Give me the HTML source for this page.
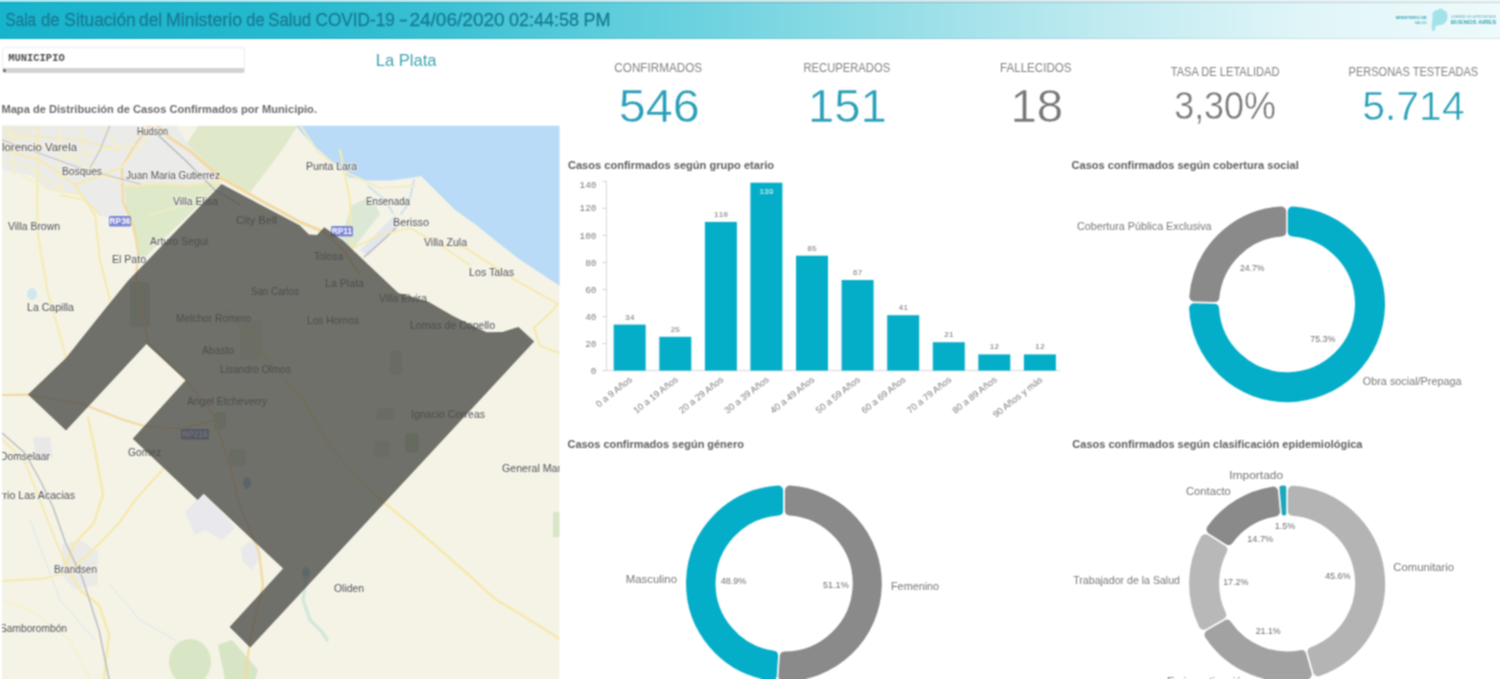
<!DOCTYPE html>
<html lang="es">
<head>
<meta charset="utf-8">
<title>Sala de Situación del Ministerio de Salud COVID-19</title>
<style>
html,body{margin:0;padding:0;}
body{width:1500px;height:679px;overflow:hidden;background:#fff;position:relative;font-family:"Liberation Sans",sans-serif;color:#595959;}
#hdr{position:absolute;left:0;top:2px;width:1500px;height:36.5px;box-shadow:inset 0 1px 0 rgba(0,70,90,.18),inset 0 -1px 0 rgba(0,70,90,.10);background:linear-gradient(90deg,rgb(23,179,204) 0%,rgb(39,185,207) 20%,rgb(60,193,212) 30%,rgb(92,204,219) 40%,rgb(110,210,223) 47%,rgb(150,222,231) 60%,rgb(190,234,240) 73%,rgb(224,245,248) 87%,rgb(238,250,251) 100%);}
#topline{position:absolute;left:0;top:0;width:1500px;height:2px;background:linear-gradient(90deg,#a8eef4 0%,#c4eaef 40%,#d8e8ec 65%,#eef5f6 100%);}
#filter{position:absolute;left:2px;top:46.5px;width:243px;height:26px;background:#fff;border:1px solid #ececec;border-bottom:5px solid #d3d3d3;box-sizing:border-box;border-radius:3px;}
#fdot{position:absolute;left:2.5px;top:68.5px;width:3px;height:3px;border-radius:2px;background:#4a6d73;}
#wrap{position:absolute;left:0;top:0;width:1500px;height:679px;overflow:hidden;filter:url(#bl);background:#fff;}
svg{position:absolute;left:0;top:0;}
</style>
</head>
<body>
<svg width="0" height="0" style="position:absolute"><filter id="bl" x="0" y="0" width="100%" height="100%" color-interpolation-filters="sRGB"><feConvolveMatrix order="3" kernelMatrix="1 2 1 2 4 2 1 2 1" divisor="16" edgeMode="duplicate"/></filter></svg>
<div id="wrap">
<div id="topline"></div>
<div id="hdr"></div>
<div id="filter"></div>
<div id="fdot"></div>
<svg width="1500" height="679" viewBox="0 0 1500 679">
<clipPath id="mc"><rect x="2" y="125.7" width="557.5" height="553.3"/></clipPath>
<g clip-path="url(#mc)">
<rect x="2" y="125.7" width="557.5" height="553.3" fill="#f4f3e6"/>
<polygon points="2.0,125.0 176.0,125.0 186.0,141.0 205.0,163.0 221.0,181.0 190.0,186.0 160.0,184.0 125.0,187.0 126.0,225.0 100.0,215.0 80.0,195.0 50.0,190.0 30.0,175.0 2.0,170.0" fill="#ebebea"/>
<polygon points="199.0,125.0 298.0,125.0 285.0,146.0 250.5,192.0 221.6,180.0 203.0,160.0 186.6,143.5" fill="#dfe9ca"/>
<polygon points="125.0,187.0 160.0,184.0 190.0,186.0 221.0,183.0 140.0,262.0 134.0,235.0 126.0,208.0" fill="#dde9c8"/>
<polygon points="2.0,125.0 40.0,125.0 20.0,140.0 2.0,146.0" fill="#eceadf"/>
<polygon points="352.0,205.0 372.0,196.0 380.0,214.0 352.0,250.0 340.0,240.0" fill="#dce8d6"/>
<polygon points="360.0,250.0 395.0,215.0 402.0,222.0 368.0,256.0" fill="#e4e6ee"/>
<polygon points="296.0,125.0 300.0,131.0 312.0,144.0 326.0,156.0 338.0,168.0 349.0,177.0 365.0,180.5 390.0,180.5 413.0,177.5 421.0,176.0 429.0,184.0 437.0,192.0 455.0,210.0 475.0,224.0 496.0,241.0 519.0,259.0 560.0,286.0 560.0,125.0" fill="#b9dbf7"/>
<ellipse cx="190" cy="662" rx="21" ry="23" fill="#d9e6c5"/>
<polygon points="218.0,645.0 232.0,640.0 245.0,655.0 258.0,670.0 255.0,679.0 225.0,679.0" fill="#d6e5c3"/>
<rect x="553" y="512" width="7" height="25" fill="#d9e6c5"/>
<polygon points="185.0,512.0 203.0,494.0 222.0,512.0 235.0,528.0 222.0,540.0 205.0,530.0 195.0,535.0" fill="#e9e8ec"/>
<polygon points="241.0,548.0 252.0,540.0 262.0,555.0 252.0,570.0 243.0,562.0" fill="#e9e8ec"/>
<polygon points="62.0,545.0 80.0,540.0 98.0,552.0 98.0,585.0 75.0,590.0 62.0,575.0" fill="#ebeae6"/>
<polygon points="33.0,437.0 50.0,437.0 53.0,457.0 36.0,458.0" fill="#e9e8e8"/>
<rect x="214" y="412" width="12" height="17" rx="4" fill="#b9d7ad" fill-opacity="0.7"/>
<rect x="229" y="449" width="17" height="17" rx="4" fill="#c3dcb4" fill-opacity="0.7"/>
<rect x="405" y="433" width="14" height="20" rx="4" fill="#b5d5a8" fill-opacity="0.7"/>
<rect x="376" y="408" width="18" height="12" rx="4" fill="#cfdcc0" fill-opacity="0.7"/>
<rect x="374" y="441" width="16" height="16" rx="4" fill="#d0d8c8" fill-opacity="0.7"/>
<rect x="130" y="282" width="20" height="45" rx="4" fill="#bcd6b0" fill-opacity="0.7"/>
<rect x="240" y="320" width="22" height="40" rx="4" fill="#dde5cc" fill-opacity="0.7"/>
<rect x="390" y="350" width="12" height="25" rx="4" fill="#c8dcb8" fill-opacity="0.7"/>
<ellipse cx="247" cy="483" rx="4" ry="6" fill="#9cc0e8"/>
<ellipse cx="306" cy="573" rx="4" ry="6" fill="#a8c8e8"/>
<polyline points="368.0,186.0 384.0,199.0 393.0,213.0" fill="none" stroke="#c5ddf0" stroke-width="1.6" stroke-linecap="round" stroke-linejoin="round" />
<polyline points="414.0,180.0 409.0,203.0 401.0,214.0" fill="none" stroke="#c5ddf0" stroke-width="1.6" stroke-linecap="round" stroke-linejoin="round" />
<polyline points="364.0,257.0 380.0,243.0 396.0,228.0" fill="none" stroke="#b8b8c0" stroke-width="1.3" stroke-linecap="round" stroke-linejoin="round" />
<ellipse cx="32" cy="294" rx="5" ry="6" fill="#d0e8ec"/>
<polyline points="306.0,578.0 303.0,600.0 310.0,620.0 322.0,632.0 327.0,640.0" fill="none" stroke="#d3e8dc" stroke-width="3.5" stroke-linecap="round" stroke-linejoin="round" />
<polyline points="30.0,520.0 45.0,560.0 60.0,600.0 95.0,640.0" fill="none" stroke="#dbe8f0" stroke-width="1" stroke-linecap="round" stroke-linejoin="round" />
<polyline points="110.0,585.0 140.0,620.0 175.0,640.0" fill="none" stroke="#dbe8f0" stroke-width="1" stroke-linecap="round" stroke-linejoin="round" />
<polyline points="157.0,125.0 170.0,138.0 190.0,151.0 221.0,178.0 260.0,200.0 300.0,222.0 324.0,232.0 345.0,252.0 360.0,275.0" fill="none" stroke="#f3d9a3" stroke-width="3" stroke-linecap="round" stroke-linejoin="round" />
<polyline points="150.0,125.0 135.0,145.0 122.0,167.0 123.0,202.0 134.0,227.0 138.0,252.0 136.0,280.0 142.0,313.0 148.0,342.0 186.0,380.0 214.0,416.0 231.0,470.0 239.0,503.0 259.0,552.0 263.0,585.0 250.0,640.0 245.0,679.0" fill="none" stroke="#f3d9a3" stroke-width="2.2" stroke-linecap="round" stroke-linejoin="round" />
<polyline points="2.0,395.0 28.0,394.6 82.0,404.0 124.0,420.0 144.0,426.0 181.0,429.0 214.0,420.0" fill="none" stroke="#f3d9a3" stroke-width="2.2" stroke-linecap="round" stroke-linejoin="round" />
<polyline points="88.0,418.0 95.0,450.0 103.0,494.0 94.0,523.0 74.0,544.0 66.0,565.0 80.0,590.0 99.0,605.0 109.0,634.0 104.0,679.0" fill="none" stroke="#f6e9ad" stroke-width="2.4" stroke-linecap="round" stroke-linejoin="round" />
<polyline points="164.0,468.0 136.0,499.0 119.0,523.0 99.0,544.0 82.0,560.0 70.0,568.0" fill="none" stroke="#f6e9ad" stroke-width="2.2" stroke-linecap="round" stroke-linejoin="round" />
<polyline points="2.0,439.0 25.0,462.0 41.0,503.0 57.0,544.0 66.0,565.0" fill="none" stroke="#f6e9ad" stroke-width="1.8" stroke-linecap="round" stroke-linejoin="round" />
<polyline points="2.0,581.0 41.0,579.0 70.0,572.0" fill="none" stroke="#f6e9ad" stroke-width="1.8" stroke-linecap="round" stroke-linejoin="round" />
<polyline points="2.0,600.0 30.0,610.0 70.0,640.0 90.0,679.0" fill="none" stroke="#f8f0c8" stroke-width="1.4" stroke-linecap="round" stroke-linejoin="round" />
<polyline points="225.0,310.0 280.0,374.0 304.0,400.0 329.0,445.0 361.0,482.0 386.0,504.0 415.0,528.0 445.0,554.0 470.0,576.0 495.0,599.0 525.0,617.0 560.0,639.0" fill="none" stroke="#f6e9ad" stroke-width="2.4" stroke-linecap="round" stroke-linejoin="round" />
<polyline points="2.0,150.0 40.0,160.0 75.0,185.0 95.0,215.0 100.0,260.0 110.0,300.0" fill="none" stroke="#f6e9ad" stroke-width="2" stroke-linecap="round" stroke-linejoin="round" />
<polyline points="75.0,185.0 122.0,167.0" fill="none" stroke="#f6e9ad" stroke-width="2" stroke-linecap="round" stroke-linejoin="round" />
<polyline points="38.0,125.0 37.0,200.0 38.0,235.0 47.6,292.0 60.0,335.0 66.0,358.0" fill="none" stroke="#f5ecb6" stroke-width="2.3" stroke-linecap="round" stroke-linejoin="round" />
<polyline points="20.0,135.0 80.0,140.0 120.0,150.0" fill="none" stroke="#f6e9ad" stroke-width="1.6" stroke-linecap="round" stroke-linejoin="round" />
<polyline points="100.0,215.0 85.0,200.0 60.0,195.0" fill="none" stroke="#f6e9ad" stroke-width="1.6" stroke-linecap="round" stroke-linejoin="round" />
<polyline points="221.0,181.0 190.0,186.0 160.0,184.0 123.0,187.0" fill="none" stroke="#f6e9ad" stroke-width="1.8" stroke-linecap="round" stroke-linejoin="round" />
<polyline points="221.0,181.0 185.0,205.0 150.0,215.0" fill="none" stroke="#f3ecc4" stroke-width="1.4" stroke-linecap="round" stroke-linejoin="round" />
<polyline points="440.0,245.0 464.0,247.0 517.0,281.0 558.0,304.0 552.0,311.0 534.0,328.0 540.0,346.0 560.0,353.0" fill="none" stroke="#f6e9ad" stroke-width="2" stroke-linecap="round" stroke-linejoin="round" />
<polyline points="340.0,150.0 350.0,200.0 352.0,250.0" fill="none" stroke="#f6e9ad" stroke-width="2" stroke-linecap="round" stroke-linejoin="round" />
<polyline points="345.0,252.0 380.0,235.0 410.0,228.0 440.0,245.0 470.0,265.0" fill="none" stroke="#f6e9ad" stroke-width="1.6" stroke-linecap="round" stroke-linejoin="round" />
<polyline points="300.0,125.0 318.0,152.0 345.0,172.0 380.0,188.0 415.0,186.0" fill="none" stroke="#f3ecc9" stroke-width="2" stroke-linecap="round" stroke-linejoin="round" />
<polyline points="2.0,160.0 30.0,168.0 62.0,190.0" fill="none" stroke="#f7efc0" stroke-width="1.6" stroke-linecap="round" stroke-linejoin="round" />
<polyline points="10.0,125.0 14.0,175.0" fill="none" stroke="#f7efc0" stroke-width="1.6" stroke-linecap="round" stroke-linejoin="round" />
<polyline points="60.0,125.0 58.0,160.0 62.0,190.0" fill="none" stroke="#f7efc0" stroke-width="1.6" stroke-linecap="round" stroke-linejoin="round" />
<polyline points="80.0,125.0 84.0,150.0 100.0,176.0" fill="none" stroke="#f7efc0" stroke-width="1.6" stroke-linecap="round" stroke-linejoin="round" />
<polyline points="100.0,125.0 120.0,150.0" fill="none" stroke="#f7efc0" stroke-width="1.6" stroke-linecap="round" stroke-linejoin="round" />
<polyline points="2.0,132.0 60.0,150.0 100.0,176.0" fill="none" stroke="#f7efc0" stroke-width="1.6" stroke-linecap="round" stroke-linejoin="round" />
<polyline points="20.0,175.0 50.0,190.0 80.0,195.0" fill="none" stroke="#f7efc0" stroke-width="1.6" stroke-linecap="round" stroke-linejoin="round" />
<polyline points="122.0,167.0 145.0,141.0 153.0,132.0" fill="none" stroke="#f7efc0" stroke-width="1.6" stroke-linecap="round" stroke-linejoin="round" />
<polyline points="103.0,176.0 122.0,182.0" fill="none" stroke="#f7efc0" stroke-width="1.6" stroke-linecap="round" stroke-linejoin="round" />
<polyline points="60.0,160.0 100.0,150.0 135.0,145.0" fill="none" stroke="#f7efc0" stroke-width="1.6" stroke-linecap="round" stroke-linejoin="round" />
<polyline points="2.0,433.0 25.0,453.0 41.0,482.0 53.0,507.0 66.0,544.0 82.0,577.0 99.0,630.0 109.0,679.0" fill="none" stroke="#bdbdc2" stroke-width="1.5" stroke-linecap="round" stroke-linejoin="round" />
<polyline points="2.0,140.0 30.0,150.0 80.0,168.0 110.0,176.0 140.0,184.0" fill="none" stroke="#c2c2c8" stroke-width="1.2" stroke-linecap="round" stroke-linejoin="round" />
<polyline points="158.0,135.0 185.0,160.0 215.0,190.0 240.0,205.0" fill="none" stroke="#b5b5bb" stroke-width="1.2" stroke-linecap="round" stroke-linejoin="round" />
<polyline points="110.0,125.0 100.0,150.0 90.0,168.0" fill="none" stroke="#c2c2c8" stroke-width="1.2" stroke-linecap="round" stroke-linejoin="round" />
<text x="137" y="135" font-size="10.5" fill="#505050" stroke="#f7f6f0" stroke-opacity="0.75" stroke-width="1.8" paint-order="stroke" stroke-linejoin="round" textLength="31" lengthAdjust="spacingAndGlyphs">Hudson</text>
<text x="2" y="151.3" font-size="10.5" fill="#505050" stroke="#f7f6f0" stroke-opacity="0.75" stroke-width="1.8" paint-order="stroke" stroke-linejoin="round" textLength="75" lengthAdjust="spacingAndGlyphs">lorencio Varela</text>
<text x="62" y="175" font-size="10.5" fill="#505050" stroke="#f7f6f0" stroke-opacity="0.75" stroke-width="1.8" paint-order="stroke" stroke-linejoin="round" textLength="40" lengthAdjust="spacingAndGlyphs">Bosques</text>
<text x="126" y="179" font-size="10.5" fill="#505050" stroke="#f7f6f0" stroke-opacity="0.75" stroke-width="1.8" paint-order="stroke" stroke-linejoin="round" textLength="94" lengthAdjust="spacingAndGlyphs">Juan Maria Gutierrez</text>
<text x="173" y="205" font-size="10.5" fill="#505050" stroke="#f7f6f0" stroke-opacity="0.75" stroke-width="1.8" paint-order="stroke" stroke-linejoin="round" textLength="45" lengthAdjust="spacingAndGlyphs">Villa Elisa</text>
<text x="8" y="230" font-size="10.5" fill="#505050" stroke="#f7f6f0" stroke-opacity="0.75" stroke-width="1.8" paint-order="stroke" stroke-linejoin="round" textLength="52" lengthAdjust="spacingAndGlyphs">Villa Brown</text>
<text x="150" y="245" font-size="10.5" fill="#505050" stroke="#f7f6f0" stroke-opacity="0.75" stroke-width="1.8" paint-order="stroke" stroke-linejoin="round" textLength="58" lengthAdjust="spacingAndGlyphs">Arturo Segui</text>
<text x="112" y="263" font-size="10.5" fill="#505050" stroke="#f7f6f0" stroke-opacity="0.75" stroke-width="1.8" paint-order="stroke" stroke-linejoin="round" textLength="34" lengthAdjust="spacingAndGlyphs">El Pato</text>
<text x="236" y="224" font-size="10.5" fill="#505050" stroke="#f7f6f0" stroke-opacity="0.75" stroke-width="1.8" paint-order="stroke" stroke-linejoin="round" textLength="41" lengthAdjust="spacingAndGlyphs">City Bell</text>
<text x="306" y="170" font-size="10.5" fill="#505050" stroke="#f7f6f0" stroke-opacity="0.75" stroke-width="1.8" paint-order="stroke" stroke-linejoin="round" textLength="51" lengthAdjust="spacingAndGlyphs">Punta Lara</text>
<text x="366" y="205" font-size="10.5" fill="#505050" stroke="#f7f6f0" stroke-opacity="0.75" stroke-width="1.8" paint-order="stroke" stroke-linejoin="round" textLength="44" lengthAdjust="spacingAndGlyphs">Ensenada</text>
<text x="393" y="226" font-size="10.5" fill="#505050" stroke="#f7f6f0" stroke-opacity="0.75" stroke-width="1.8" paint-order="stroke" stroke-linejoin="round" textLength="36" lengthAdjust="spacingAndGlyphs">Berisso</text>
<text x="424" y="246" font-size="10.5" fill="#505050" stroke="#f7f6f0" stroke-opacity="0.75" stroke-width="1.8" paint-order="stroke" stroke-linejoin="round" textLength="43" lengthAdjust="spacingAndGlyphs">Villa Zula</text>
<text x="314" y="260" font-size="10.5" fill="#505050" stroke="#f7f6f0" stroke-opacity="0.75" stroke-width="1.8" paint-order="stroke" stroke-linejoin="round" textLength="29" lengthAdjust="spacingAndGlyphs">Tolosa</text>
<text x="469" y="276" font-size="10.5" fill="#505050" stroke="#f7f6f0" stroke-opacity="0.75" stroke-width="1.8" paint-order="stroke" stroke-linejoin="round" textLength="45" lengthAdjust="spacingAndGlyphs">Los Talas</text>
<text x="325" y="287" font-size="10.5" fill="#505050" stroke="#f7f6f0" stroke-opacity="0.75" stroke-width="1.8" paint-order="stroke" stroke-linejoin="round" textLength="39" lengthAdjust="spacingAndGlyphs">La Plata</text>
<text x="251" y="295" font-size="10.5" fill="#505050" stroke="#f7f6f0" stroke-opacity="0.75" stroke-width="1.8" paint-order="stroke" stroke-linejoin="round" textLength="48" lengthAdjust="spacingAndGlyphs">San Carlos</text>
<text x="379" y="302" font-size="10.5" fill="#505050" stroke="#f7f6f0" stroke-opacity="0.75" stroke-width="1.8" paint-order="stroke" stroke-linejoin="round" textLength="48" lengthAdjust="spacingAndGlyphs">Villa Elvira</text>
<text x="27" y="311" font-size="10.5" fill="#505050" stroke="#f7f6f0" stroke-opacity="0.75" stroke-width="1.8" paint-order="stroke" stroke-linejoin="round" textLength="47" lengthAdjust="spacingAndGlyphs">La Capilla</text>
<text x="176" y="322" font-size="10.5" fill="#505050" stroke="#f7f6f0" stroke-opacity="0.75" stroke-width="1.8" paint-order="stroke" stroke-linejoin="round" textLength="75" lengthAdjust="spacingAndGlyphs">Melchor Romero</text>
<text x="307" y="324" font-size="10.5" fill="#505050" stroke="#f7f6f0" stroke-opacity="0.75" stroke-width="1.8" paint-order="stroke" stroke-linejoin="round" textLength="52" lengthAdjust="spacingAndGlyphs">Los Hornos</text>
<text x="410" y="329" font-size="10.5" fill="#505050" stroke="#f7f6f0" stroke-opacity="0.75" stroke-width="1.8" paint-order="stroke" stroke-linejoin="round" textLength="85" lengthAdjust="spacingAndGlyphs">Lomas de Copello</text>
<text x="202" y="354" font-size="10.5" fill="#505050" stroke="#f7f6f0" stroke-opacity="0.75" stroke-width="1.8" paint-order="stroke" stroke-linejoin="round" textLength="32" lengthAdjust="spacingAndGlyphs">Abasto</text>
<text x="220" y="373" font-size="10.5" fill="#505050" stroke="#f7f6f0" stroke-opacity="0.75" stroke-width="1.8" paint-order="stroke" stroke-linejoin="round" textLength="71" lengthAdjust="spacingAndGlyphs">Lisandro Olmos</text>
<text x="187" y="405" font-size="10.5" fill="#505050" stroke="#f7f6f0" stroke-opacity="0.75" stroke-width="1.8" paint-order="stroke" stroke-linejoin="round" textLength="80" lengthAdjust="spacingAndGlyphs">Angel Etcheverry</text>
<text x="411" y="418" font-size="10.5" fill="#505050" stroke="#f7f6f0" stroke-opacity="0.75" stroke-width="1.8" paint-order="stroke" stroke-linejoin="round" textLength="74" lengthAdjust="spacingAndGlyphs">Ignacio Correas</text>
<text x="128" y="456" font-size="10.5" fill="#505050" stroke="#f7f6f0" stroke-opacity="0.75" stroke-width="1.8" paint-order="stroke" stroke-linejoin="round" textLength="33" lengthAdjust="spacingAndGlyphs">Gomez</text>
<text x="0" y="460" font-size="10.5" fill="#505050" stroke="#f7f6f0" stroke-opacity="0.75" stroke-width="1.8" paint-order="stroke" stroke-linejoin="round" textLength="50" lengthAdjust="spacingAndGlyphs">Domselaar</text>
<text x="502" y="472" font-size="10.5" fill="#505050" stroke="#f7f6f0" stroke-opacity="0.75" stroke-width="1.8" paint-order="stroke" stroke-linejoin="round" textLength="59" lengthAdjust="spacingAndGlyphs">General Mar</text>
<text x="0" y="499" font-size="10.5" fill="#505050" stroke="#f7f6f0" stroke-opacity="0.75" stroke-width="1.8" paint-order="stroke" stroke-linejoin="round" textLength="75" lengthAdjust="spacingAndGlyphs">rrio Las Acacias</text>
<text x="54" y="573" font-size="10.5" fill="#505050" stroke="#f7f6f0" stroke-opacity="0.75" stroke-width="1.8" paint-order="stroke" stroke-linejoin="round" textLength="43" lengthAdjust="spacingAndGlyphs">Brandsen</text>
<text x="334" y="592" font-size="10.5" fill="#505050" stroke="#f7f6f0" stroke-opacity="0.75" stroke-width="1.8" paint-order="stroke" stroke-linejoin="round" textLength="30" lengthAdjust="spacingAndGlyphs">Oliden</text>
<text x="0" y="632" font-size="10.5" fill="#505050" stroke="#f7f6f0" stroke-opacity="0.75" stroke-width="1.8" paint-order="stroke" stroke-linejoin="round" textLength="67" lengthAdjust="spacingAndGlyphs">Samborombón</text>
<rect x="109" y="216" width="22" height="10.5" rx="1.5" fill="#7b86d4"/><text x="120.0" y="224.3" font-size="8.3" font-weight="bold" fill="#fff" text-anchor="middle">RP36</text>
<rect x="331" y="226" width="22" height="10.5" rx="1.5" fill="#7b86d4"/><text x="342.0" y="234.3" font-size="8.3" font-weight="bold" fill="#fff" text-anchor="middle">RP11</text>
<rect x="181" y="429" width="28" height="10.5" rx="1.5" fill="#7b86d4"/><text x="195.0" y="437.3" font-size="8.3" font-weight="bold" fill="#fff" text-anchor="middle">RP215</text>
<polygon points="221.5,184.0 299.6,225.3 309.0,234.5 317.0,235.0 324.3,227.3 343.5,241.0 366.5,263.0 398.3,293.0 428.4,301.8 453.0,316.0 474.3,326.6 486.7,332.2 502.6,331.9 518.5,327.0 534.2,341.5 250.2,647.5 229.6,627.0 283.1,568.6 203.7,493.7 197.6,500.0 132.8,438.8 185.6,380.2 146.4,344.0 66.0,430.5 28.0,394.6 66.0,358.0 105.0,309.0 127.8,281.0" fill="#4a4a46" fill-opacity="0.78"/>
</g>
</svg>
<svg width="1500" height="679" viewBox="0 0 1500 679">
<line x1="606.5" y1="181" x2="606.5" y2="370.6" stroke="#d9d9d9" stroke-width="1"/>
<line x1="606.5" y1="370.6" x2="1060" y2="370.6" stroke="#d9d9d9" stroke-width="1"/>
<line x1="602.5" y1="370.6" x2="606.5" y2="370.6" stroke="#d0d0d0" stroke-width="1"/>
<text x="596.5" y="373.6" font-size="9.4" fill="#7d7d7d" text-anchor="end" font-family="Liberation Mono,monospace">0</text>
<line x1="602.5" y1="343.6" x2="606.5" y2="343.6" stroke="#d0d0d0" stroke-width="1"/>
<text x="596.5" y="346.6" font-size="9.4" fill="#7d7d7d" text-anchor="end" font-family="Liberation Mono,monospace">20</text>
<line x1="602.5" y1="316.5" x2="606.5" y2="316.5" stroke="#d0d0d0" stroke-width="1"/>
<text x="596.5" y="319.5" font-size="9.4" fill="#7d7d7d" text-anchor="end" font-family="Liberation Mono,monospace">40</text>
<line x1="602.5" y1="289.5" x2="606.5" y2="289.5" stroke="#d0d0d0" stroke-width="1"/>
<text x="596.5" y="292.5" font-size="9.4" fill="#7d7d7d" text-anchor="end" font-family="Liberation Mono,monospace">60</text>
<line x1="602.5" y1="262.5" x2="606.5" y2="262.5" stroke="#d0d0d0" stroke-width="1"/>
<text x="596.5" y="265.5" font-size="9.4" fill="#7d7d7d" text-anchor="end" font-family="Liberation Mono,monospace">80</text>
<line x1="602.5" y1="235.5" x2="606.5" y2="235.5" stroke="#d0d0d0" stroke-width="1"/>
<text x="596.5" y="238.5" font-size="9.4" fill="#7d7d7d" text-anchor="end" font-family="Liberation Mono,monospace">100</text>
<line x1="602.5" y1="208.4" x2="606.5" y2="208.4" stroke="#d0d0d0" stroke-width="1"/>
<text x="596.5" y="211.4" font-size="9.4" fill="#7d7d7d" text-anchor="end" font-family="Liberation Mono,monospace">120</text>
<line x1="602.5" y1="181.4" x2="606.5" y2="181.4" stroke="#d0d0d0" stroke-width="1"/>
<text x="596.5" y="187.9" font-size="9.4" fill="#7d7d7d" text-anchor="end" font-family="Liberation Mono,monospace">140</text>
<rect x="613.7" y="324.6" width="32" height="46.0" fill="#05aec8"/>
<text x="629.7" y="319.6" font-size="8" fill="#777" text-anchor="middle" font-family="Liberation Mono,monospace">34</text>
<text x="632.9" y="380.6" font-size="9.2" fill="#7d7d7d" text-anchor="end" transform="rotate(-38.5 632.9 380.6)">0 a 9 Años</text>
<rect x="659.3" y="336.8" width="32" height="33.8" fill="#05aec8"/>
<text x="675.3" y="331.8" font-size="8" fill="#777" text-anchor="middle" font-family="Liberation Mono,monospace">25</text>
<text x="678.5" y="380.6" font-size="9.2" fill="#7d7d7d" text-anchor="end" transform="rotate(-38.5 678.5 380.6)">10 a 19 Años</text>
<rect x="704.9" y="221.9" width="32" height="148.7" fill="#05aec8"/>
<text x="720.9" y="216.9" font-size="8" fill="#777" text-anchor="middle" font-family="Liberation Mono,monospace">110</text>
<text x="724.1" y="380.6" font-size="9.2" fill="#7d7d7d" text-anchor="end" transform="rotate(-38.5 724.1 380.6)">20 a 29 Años</text>
<rect x="750.4" y="182.7" width="32" height="187.9" fill="#05aec8"/>
<text x="766.4" y="193.7" font-size="8" fill="#e8f8fb" text-anchor="middle" font-family="Liberation Mono,monospace">139</text>
<text x="769.6" y="380.6" font-size="9.2" fill="#7d7d7d" text-anchor="end" transform="rotate(-38.5 769.6 380.6)">30 a 39 Años</text>
<rect x="796.0" y="255.7" width="32" height="114.9" fill="#05aec8"/>
<text x="812.0" y="250.7" font-size="8" fill="#777" text-anchor="middle" font-family="Liberation Mono,monospace">85</text>
<text x="815.2" y="380.6" font-size="9.2" fill="#7d7d7d" text-anchor="end" transform="rotate(-38.5 815.2 380.6)">40 a 49 Años</text>
<rect x="841.6" y="280.0" width="32" height="90.6" fill="#05aec8"/>
<text x="857.6" y="275.0" font-size="8" fill="#777" text-anchor="middle" font-family="Liberation Mono,monospace">67</text>
<text x="860.8" y="380.6" font-size="9.2" fill="#7d7d7d" text-anchor="end" transform="rotate(-38.5 860.8 380.6)">50 a 59 Años</text>
<rect x="887.2" y="315.2" width="32" height="55.4" fill="#05aec8"/>
<text x="903.2" y="310.2" font-size="8" fill="#777" text-anchor="middle" font-family="Liberation Mono,monospace">41</text>
<text x="906.4" y="380.6" font-size="9.2" fill="#7d7d7d" text-anchor="end" transform="rotate(-38.5 906.4 380.6)">60 a 69 Años</text>
<rect x="932.8" y="342.2" width="32" height="28.4" fill="#05aec8"/>
<text x="948.8" y="337.2" font-size="8" fill="#777" text-anchor="middle" font-family="Liberation Mono,monospace">21</text>
<text x="952.0" y="380.6" font-size="9.2" fill="#7d7d7d" text-anchor="end" transform="rotate(-38.5 952.0 380.6)">70 a 79 Años</text>
<rect x="978.3" y="354.4" width="32" height="16.2" fill="#05aec8"/>
<text x="994.3" y="349.4" font-size="8" fill="#777" text-anchor="middle" font-family="Liberation Mono,monospace">12</text>
<text x="997.5" y="380.6" font-size="9.2" fill="#7d7d7d" text-anchor="end" transform="rotate(-38.5 997.5 380.6)">80 a 89 Años</text>
<rect x="1023.9" y="354.4" width="32" height="16.2" fill="#05aec8"/>
<text x="1039.9" y="349.4" font-size="8" fill="#777" text-anchor="middle" font-family="Liberation Mono,monospace">12</text>
<text x="1043.1" y="380.6" font-size="9.2" fill="#7d7d7d" text-anchor="end" transform="rotate(-38.5 1043.1 380.6)">90 Años y más</text>
<path d="M1292.8,211.4 A93.0,93.0 0 1 1 1194.1,308.3 L1214.1,308.7 A73.0,73.0 0 1 0 1292.8,231.4 Z" fill="#05aec8" stroke="#05aec8" stroke-width="10.0" stroke-linejoin="round"/>
<path d="M1194.3,296.6 A93.0,93.0 0 0 1 1281.2,211.4 L1281.2,231.4 A73.0,73.0 0 0 0 1214.4,297.0 Z" fill="#8a8a8a" stroke="#8a8a8a" stroke-width="10.0" stroke-linejoin="round"/>
<path d="M789.9,490.6 A93.0,93.0 0 0 1 783.4,676.4 L784.8,656.6 A73.2,73.2 0 0 0 789.9,510.4 Z" fill="#8a8a8a" stroke="#8a8a8a" stroke-width="10.0" stroke-linejoin="round"/>
<path d="M771.8,675.6 A93.0,93.0 0 0 1 778.1,490.6 L778.1,510.4 A73.2,73.2 0 0 0 773.1,655.8 Z" fill="#05aec8" stroke="#05aec8" stroke-width="10.0" stroke-linejoin="round"/>
<path d="M1292.9,490.7 A93.0,93.0 0 0 1 1318.1,671.2 L1312.6,651.9 A73.0,73.0 0 0 0 1292.9,510.7 Z" fill="#b4b4b4" stroke="#b4b4b4" stroke-width="10.0" stroke-linejoin="round"/>
<path d="M1306.8,674.4 A93.0,93.0 0 0 1 1209.5,634.8 L1226.9,624.8 A73.0,73.0 0 0 0 1301.3,655.1 Z" fill="#a2a2a2" stroke="#a2a2a2" stroke-width="10.0" stroke-linejoin="round"/>
<path d="M1203.7,624.7 A93.0,93.0 0 0 1 1205.3,539.2 L1222.3,549.9 A73.0,73.0 0 0 0 1221.1,614.7 Z" fill="#b8b8b8" stroke="#b8b8b8" stroke-width="10.0" stroke-linejoin="round"/>
<path d="M1211.5,529.3 A93.0,93.0 0 0 1 1273.1,491.6 L1274.9,511.5 A73.0,73.0 0 0 0 1228.5,539.9 Z" fill="#8a8a8a" stroke="#8a8a8a" stroke-width="10.0" stroke-linejoin="round"/>
<path d="M1281.4,487.6 A96.1,96.1 0 0 1 1284.3,487.5 L1284.3,513.6 A69.9,69.9 0 0 0 1283.7,513.6 Z" fill="#1fa6bc" stroke="#1fa6bc" stroke-width="3.88159241243499" stroke-linejoin="round"/>
</svg>
<svg width="1500" height="679" viewBox="0 0 1500 679">
<path d="M1432.5,13 L1435,10.5 L1438,10 L1440,8.5 L1443,9.5 L1446.5,12 L1447.8,16 L1447,20 L1444.5,23.5 L1441,25 L1437.5,25.2 L1435.5,26.5 L1434.8,30.8 L1432.2,31 L1431.6,26 L1432.4,20 Z" fill="#86d8e3" fill-opacity="0.7"/>
<text y="26" font-size="18" font-weight="normal" font-family="Liberation Sans,sans-serif" fill="#177d94" stroke="#177d94" stroke-width="0.3"><tspan x="5.45" textLength="30.58" lengthAdjust="spacingAndGlyphs">Sala</tspan> <tspan x="41.07" textLength="18.58" lengthAdjust="spacingAndGlyphs">de</tspan> <tspan x="64.34" textLength="71.38" lengthAdjust="spacingAndGlyphs">Situación</tspan> <tspan x="139.04" textLength="23.15" lengthAdjust="spacingAndGlyphs">del</tspan> <tspan x="166.02" textLength="76.00" lengthAdjust="spacingAndGlyphs">Ministerio</tspan> <tspan x="246.28" textLength="18.35" lengthAdjust="spacingAndGlyphs">de</tspan> <tspan x="268.27" textLength="42.90" lengthAdjust="spacingAndGlyphs">Salud</tspan> <tspan x="315.54" textLength="79.33" lengthAdjust="spacingAndGlyphs">COVID-19</tspan> <tspan x="398.67" textLength="9.15" lengthAdjust="spacingAndGlyphs">-</tspan> <tspan x="409.44" textLength="95.18" lengthAdjust="spacingAndGlyphs">24/06/2020</tspan> <tspan x="509.10" textLength="69.97" lengthAdjust="spacingAndGlyphs">02:44:58</tspan> <tspan x="583.50" textLength="27.00" lengthAdjust="spacingAndGlyphs">PM</tspan></text>
<text x="1077.01" y="230.4" font-size="11" font-weight="normal" font-family="Liberation Sans,sans-serif" fill="#777" textLength="134.55" lengthAdjust="spacingAndGlyphs" >Cobertura Pública Exclusiva</text>
<text x="1362.81" y="384.5" font-size="11" font-weight="normal" font-family="Liberation Sans,sans-serif" fill="#777" textLength="98.72" lengthAdjust="spacingAndGlyphs" >Obra social/Prepaga</text>
<text x="1239.94" y="271.2" font-size="9.3" font-weight="normal" font-family="Liberation Sans,sans-serif" fill="#6e6e6e" textLength="24.50" lengthAdjust="spacingAndGlyphs" >24.7%</text>
<text x="1310.22" y="342" font-size="9.3" font-weight="normal" font-family="Liberation Sans,sans-serif" fill="#6e6e6e" textLength="25.12" lengthAdjust="spacingAndGlyphs" >75.3%</text>
<text x="625.76" y="582.6" font-size="11" font-weight="normal" font-family="Liberation Sans,sans-serif" fill="#777" textLength="51.28" lengthAdjust="spacingAndGlyphs" >Masculino</text>
<text x="891.02" y="590" font-size="11" font-weight="normal" font-family="Liberation Sans,sans-serif" fill="#777" textLength="48.09" lengthAdjust="spacingAndGlyphs" >Femenino</text>
<text x="720.76" y="584.2" font-size="9.3" font-weight="normal" font-family="Liberation Sans,sans-serif" fill="#6e6e6e" textLength="25.39" lengthAdjust="spacingAndGlyphs" >48.9%</text>
<text x="823.01" y="588" font-size="9.3" font-weight="normal" font-family="Liberation Sans,sans-serif" fill="#6e6e6e" textLength="25.74" lengthAdjust="spacingAndGlyphs" >51.1%</text>
<text x="1229.21" y="478.7" font-size="11" font-weight="normal" font-family="Liberation Sans,sans-serif" fill="#777" textLength="53.96" lengthAdjust="spacingAndGlyphs" >Importado</text>
<text x="1185.99" y="494.8" font-size="11" font-weight="normal" font-family="Liberation Sans,sans-serif" fill="#777" textLength="44.85" lengthAdjust="spacingAndGlyphs" >Contacto</text>
<text x="1393.39" y="570.6" font-size="11" font-weight="normal" font-family="Liberation Sans,sans-serif" fill="#777" textLength="60.68" lengthAdjust="spacingAndGlyphs" >Comunitario</text>
<text x="1073.26" y="584.2" font-size="11" font-weight="normal" font-family="Liberation Sans,sans-serif" fill="#777" textLength="106.75" lengthAdjust="spacingAndGlyphs" >Trabajador de la Salud</text>
<text x="1166.99" y="684.6" font-size="11" font-weight="normal" font-family="Liberation Sans,sans-serif" fill="#777" textLength="80.62" lengthAdjust="spacingAndGlyphs" >En investigación</text>
<text x="1274.78" y="528.7" font-size="9.3" font-weight="normal" font-family="Liberation Sans,sans-serif" fill="#6e6e6e" textLength="20.45" lengthAdjust="spacingAndGlyphs" >1.5%</text>
<text x="1247.26" y="542.3" font-size="9.3" font-weight="normal" font-family="Liberation Sans,sans-serif" fill="#6e6e6e" textLength="26.00" lengthAdjust="spacingAndGlyphs" >14.7%</text>
<text x="1223.18" y="585.2" font-size="9.3" font-weight="normal" font-family="Liberation Sans,sans-serif" fill="#6e6e6e" textLength="25.16" lengthAdjust="spacingAndGlyphs" >17.2%</text>
<text x="1324.96" y="578.7" font-size="9.3" font-weight="normal" font-family="Liberation Sans,sans-serif" fill="#6e6e6e" textLength="25.70" lengthAdjust="spacingAndGlyphs" >45.6%</text>
<text x="1255.63" y="634.2" font-size="9.3" font-weight="normal" font-family="Liberation Sans,sans-serif" fill="#6e6e6e" textLength="25.02" lengthAdjust="spacingAndGlyphs" >21.1%</text>
<text x="8.31" y="61.3" font-size="10.6" font-weight="bold" font-family="Liberation Mono,sans-serif" fill="#4d4d4d" textLength="56.37" lengthAdjust="spacingAndGlyphs" >MUNICIPIO</text>
<text x="375.74" y="65.5" font-size="17" font-weight="normal" font-family="Liberation Sans,sans-serif" fill="#3fa3b0" textLength="60.85" lengthAdjust="spacingAndGlyphs" >La Plata</text>
<text x="1.42" y="113.3" font-size="10.7" font-weight="bold" font-family="Liberation Sans,sans-serif" fill="#6b6b6b" textLength="315.58" lengthAdjust="spacingAndGlyphs" >Mapa de Distribución de Casos Confirmados por Municipio.</text>
<text x="614.37" y="72.4" font-size="12.3" font-weight="normal" font-family="Liberation Sans,sans-serif" fill="#828282" textLength="87.77" lengthAdjust="spacingAndGlyphs" >CONFIRMADOS</text>
<text x="803.49" y="72.4" font-size="12.3" font-weight="normal" font-family="Liberation Sans,sans-serif" fill="#828282" textLength="86.70" lengthAdjust="spacingAndGlyphs" >RECUPERADOS</text>
<text x="1000.06" y="72" font-size="12.3" font-weight="normal" font-family="Liberation Sans,sans-serif" fill="#828282" textLength="71.44" lengthAdjust="spacingAndGlyphs" >FALLECIDOS</text>
<text x="1170.70" y="76" font-size="12.3" font-weight="normal" font-family="Liberation Sans,sans-serif" fill="#828282" textLength="108.76" lengthAdjust="spacingAndGlyphs" >TASA DE LETALIDAD</text>
<text x="1348.60" y="75.5" font-size="12.3" font-weight="normal" font-family="Liberation Sans,sans-serif" fill="#828282" textLength="129.57" lengthAdjust="spacingAndGlyphs" >PERSONAS TESTEADAS</text>
<text x="618.89" y="122" font-size="46" font-weight="normal" font-family="Liberation Sans,sans-serif" fill="#2a9fb8" textLength="80.96" lengthAdjust="spacingAndGlyphs" stroke="#fff" stroke-width="0.45">546</text>
<text x="807.92" y="122" font-size="46" font-weight="normal" font-family="Liberation Sans,sans-serif" fill="#2a9fb8" textLength="78.88" lengthAdjust="spacingAndGlyphs" stroke="#fff" stroke-width="0.45">151</text>
<text x="1010.51" y="122" font-size="46" font-weight="normal" font-family="Liberation Sans,sans-serif" fill="#777" textLength="52.73" lengthAdjust="spacingAndGlyphs" stroke="#fff" stroke-width="0.45">18</text>
<text x="1174.18" y="119.3" font-size="39.5" font-weight="normal" font-family="Liberation Sans,sans-serif" fill="#777" textLength="101.74" lengthAdjust="spacingAndGlyphs" stroke="#fff" stroke-width="0.45">3,30%</text>
<text x="1362.15" y="120" font-size="40" font-weight="normal" font-family="Liberation Sans,sans-serif" fill="#2a9fb8" textLength="102.59" lengthAdjust="spacingAndGlyphs" stroke="#fff" stroke-width="0.45">5.714</text>
<text x="567.91" y="169" font-size="11.2" font-weight="bold" font-family="Liberation Sans,sans-serif" fill="#5e5e5e" textLength="206.16" lengthAdjust="spacingAndGlyphs" >Casos confirmados según grupo etario</text>
<text x="1071.51" y="169.2" font-size="11.2" font-weight="bold" font-family="Liberation Sans,sans-serif" fill="#5e5e5e" textLength="227.24" lengthAdjust="spacingAndGlyphs" >Casos confirmados según cobertura social</text>
<text x="567.51" y="448.3" font-size="11.2" font-weight="bold" font-family="Liberation Sans,sans-serif" fill="#5e5e5e" textLength="176.35" lengthAdjust="spacingAndGlyphs" >Casos confirmados según género</text>
<text x="1072.31" y="448.3" font-size="11.2" font-weight="bold" font-family="Liberation Sans,sans-serif" fill="#5e5e5e" textLength="290.19" lengthAdjust="spacingAndGlyphs" >Casos confirmados según clasificación epidemiológica</text>
<text x="1395.88" y="18.9" font-size="3.9" font-weight="bold" font-family="Liberation Sans,sans-serif" fill="#3ba3b5" textLength="30.98" lengthAdjust="spacingAndGlyphs" >MINISTERIO DE</text>
<text x="1414.42" y="23.7" font-size="3.7" font-weight="normal" font-family="Liberation Sans,sans-serif" fill="#3ba3b5" textLength="12.44" lengthAdjust="spacingAndGlyphs" >SALUD</text>
<text x="1451.06" y="17.9" font-size="3.1" font-weight="normal" font-family="Liberation Sans,sans-serif" fill="#5aaab8" textLength="45.04" lengthAdjust="spacingAndGlyphs" >GOBIERNO DE LA PROVINCIA DE</text>
<text x="1450.76" y="23.9" font-size="5.9" font-weight="bold" font-family="Liberation Sans,sans-serif" fill="#3ba3b5" textLength="45.50" lengthAdjust="spacingAndGlyphs" >BUENOS AIRES</text>
</svg>
</div>
</body>
</html>
